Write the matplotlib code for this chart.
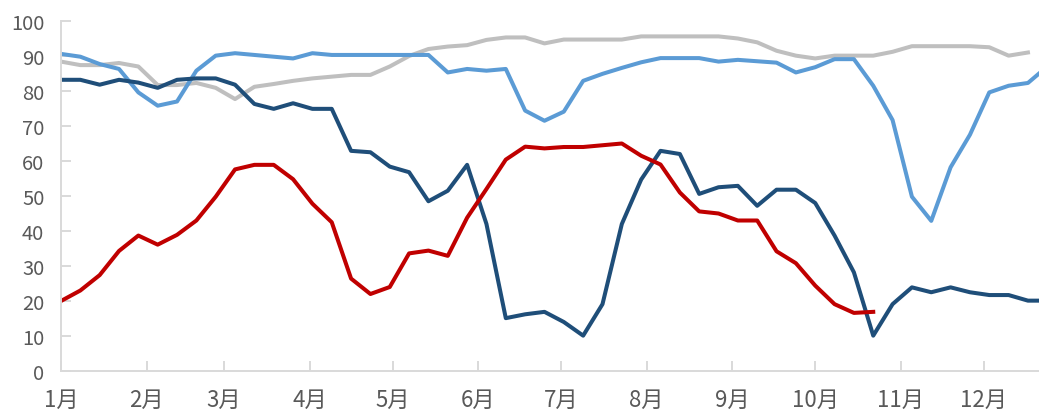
import matplotlib
matplotlib.use("Agg")
import matplotlib.pyplot as plt

plt.rcParams['font.family'] = ['Noto Sans CJK SC', 'DejaVu Sans']

# Weekly observations (week index -> day offset = 7*i)
gray = [88.4, 87.4, 87.4, 88.0, 87.0, 81.7, 81.7, 82.3, 80.9, 77.7,
        81.2, 82.0, 82.9, 83.6, 84.1, 84.6, 84.6, 87.0, 90.0, 92.0,
        92.7, 93.1, 94.6, 95.3, 95.3, 93.6, 94.7, 94.7, 94.7, 94.7,
        95.6, 95.6, 95.6, 95.6, 95.6, 95.0, 93.9, 91.5, 90.1, 89.3,
        90.1, 90.1, 90.1, 91.2, 92.8, 92.8, 92.8, 92.8, 92.5, 90.1, 91.0]

light_blue = [90.6, 89.8, 87.7, 86.3, 79.6, 75.8, 77.0, 85.8, 90.1, 90.8,
              90.3, 89.8, 89.3, 90.8, 90.3, 90.3, 90.3, 90.3, 90.3, 90.3,
              85.3, 86.3, 85.8, 86.3, 74.4, 71.5, 74.1, 82.9, 84.9, 86.6,
              88.2, 89.4, 89.4, 89.4, 88.4, 88.9, 88.5, 88.1, 85.3, 86.8,
              89.1, 89.1, 81.5, 71.7, 49.8, 42.9, 58.2, 67.5, 79.6, 81.5,
              82.3, 87.0]

navy = [83.2, 83.2, 81.8, 83.2, 82.4, 80.9, 83.2, 83.6, 83.6, 81.8,
        76.3, 74.9, 76.5, 74.9, 74.9, 62.9, 62.5, 58.4, 56.8, 48.5,
        51.5, 58.9, 42.0, 15.1, 16.2, 16.9, 14.0, 10.1, 19.1, 42.0,
        54.7, 62.9, 62.0, 50.6, 52.5, 52.9, 47.2, 51.8, 51.8, 48.0,
        38.7, 28.2, 10.1, 19.1, 23.9, 22.5, 23.9, 22.5, 21.7, 21.7,
        20.1, 20.1]

red = [20.0, 23.0, 27.4, 34.3, 38.7, 36.1, 38.9, 43.0, 49.8, 57.6,
       58.9, 58.9, 54.8, 47.8, 42.5, 26.4, 22.0, 24.0, 33.6, 34.4,
       32.9, 43.8, 52.0, 60.4, 64.1, 63.6, 64.0, 64.0, 64.5, 65.0,
       61.5, 59.0, 51.0, 45.6, 45.0, 43.0, 43.0, 34.2, 30.8, 24.4,
       19.1, 16.6, 16.9]

month_labels = ['1月', '2月', '3月', '4月', '5月', '6月',
                '7月', '8月', '9月', '10月', '11月', '12月']
month_days = [0, 31, 59, 90, 120, 151, 181, 212, 243, 273, 304, 334]

def days(series):
    return [7 * i for i in range(len(series))]

fig = plt.figure(figsize=(10.39, 4.14), dpi=100)
ax = fig.add_axes([61 / 1039, 42 / 414, 978 / 1039, 350 / 414])

lw = 2.9
ax.plot(days(gray), gray, color='#BFBFBF', lw=lw, solid_joinstyle='round')
ax.plot(days(light_blue), light_blue, color='#5B9BD5', lw=lw, solid_joinstyle='round')
ax.plot(days(navy), navy, color='#1F4E79', lw=lw, solid_joinstyle='round')
ax.plot(days(red), red, color='#C00000', lw=lw, solid_joinstyle='round')

ax.set_xlim(0, 354)
ax.set_ylim(0, 100)
ax.set_yticks(range(0, 101, 10))
ax.set_xticks(month_days)
ax.set_xticklabels(month_labels)

for s in ['top', 'right']:
    ax.spines[s].set_visible(False)
for s in ['left', 'bottom']:
    ax.spines[s].set_color('#D9D9D9')
    ax.spines[s].set_linewidth(1.4)

ax.tick_params(axis='both', direction='in', length=7, width=1.4,
               color='#D9D9D9', labelcolor='#595959')
ax.tick_params(axis='y', pad=12, labelsize=14.5)
ax.tick_params(axis='x', pad=12, labelsize=16)

fig.savefig('out.png', dpi=100)
